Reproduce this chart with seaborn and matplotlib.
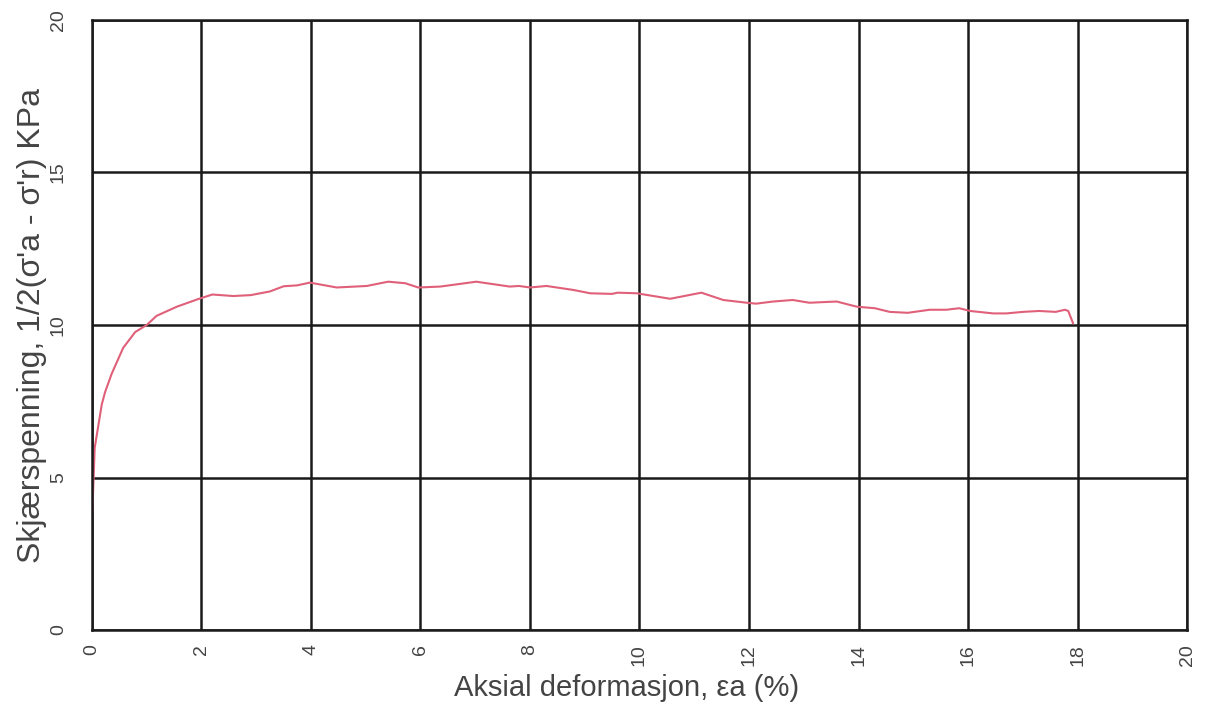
import seaborn as sns
import matplotlib.pyplot as plt
import pandas as pd

# Datos
deformacion = [0.0, 0.0, 0.05, 0.18, 0.24, 0.36, 0.57, 0.79, 1.0, 1.18, 1.55, 1.94, 2.2, 2.58, 2.9,
               3.25, 3.5, 3.75, 3.98, 4.47, 5.02, 5.41, 5.72, 5.96, 6.36, 7.02, 7.63, 7.8, 8.0,
               8.3, 8.79, 9.1, 9.5, 9.6, 9.95, 10.56, 11.13, 11.53, 11.96, 12.13, 12.44, 12.8,
               13.1, 13.6, 13.97, 14.3, 14.57, 14.9, 15.3, 15.6, 15.84, 16.04, 16.46, 16.7,
               17.0, 17.3, 17.6, 17.77, 17.83, 17.92]
skjaer = [2.0, 5.0, 5.97, 7.4, 7.8, 8.4, 9.25, 9.77, 10.0, 10.3, 10.6, 10.85, 11.0, 10.95, 10.98,
          11.1, 11.27, 11.3, 11.39, 11.23, 11.28, 11.42, 11.37, 11.23, 11.26, 11.42, 11.26, 11.28, 11.23,
          11.28, 11.15, 11.04, 11.02, 11.06, 11.04, 10.86, 11.06, 10.82, 10.73, 10.7, 10.77, 10.82,
          10.73, 10.77, 10.6, 10.55, 10.43, 10.4, 10.5, 10.5, 10.55, 10.46, 10.38, 10.38,
          10.43, 10.46, 10.43, 10.5, 10.46, 10.05]

df = pd.DataFrame({'x': deformacion, 'y': skjaer})

sns.set_style('white')
plt.rcParams['font.family'] = ['Liberation Sans', 'DejaVu Sans']

fig = plt.figure(figsize=(12.13, 7.06), dpi=100)
ax = fig.add_axes([0.0758, 0.1076, 0.9028, 0.8641])

sns.lineplot(data=df, x='x', y='y', color='#e0607a', linewidth=1.5, sort=False, ax=ax)

ax.set_xlim(0, 20)
ax.set_ylim(0, 20)
ax.set_xticks(range(0, 21, 2))
ax.set_yticks(range(0, 21, 5))
ax.grid(True, color='#1a1a1a', linewidth=1.8)
for s in ax.spines.values():
    s.set_color('#1a1a1a')
    s.set_linewidth(1.8)

ax.tick_params(axis='x', labelsize=14, labelrotation=90, colors='#444444', length=0, pad=10)
ax.tick_params(axis='y', labelsize=14, labelrotation=90, colors='#444444', length=0, pad=18)
for lbl in ax.get_yticklabels():
    lbl.set_va('center')

ax.set_xlabel('Aksial deformasjon, εa (%)', fontsize=21, color='#444444', va='center')
ax.xaxis.set_label_coords(0.488, -0.095)
ax.set_ylabel("Skjærspenning, 1/2(σ'a - σ'r) KPa", fontsize=23, color='#444444', labelpad=2)

plt.savefig('out.png', dpi=100)
plt.close()
